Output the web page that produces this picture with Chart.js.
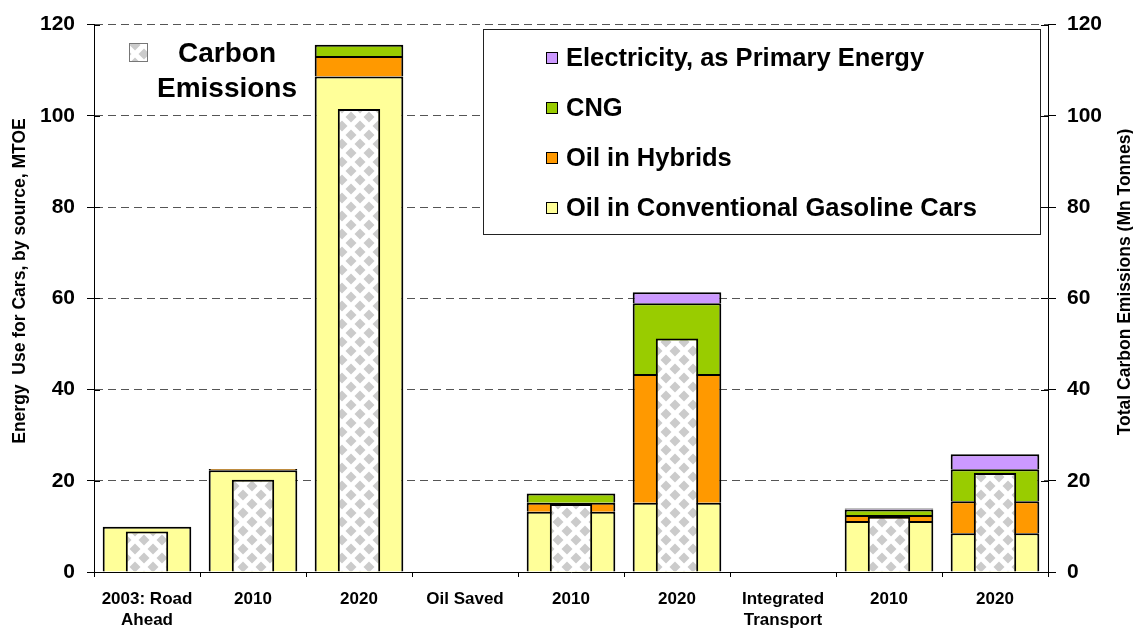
<!DOCTYPE html>
<html>
<head>
<meta charset="utf-8">
<script src="https://cdn.jsdelivr.net/npm/chart.js@4.4.1/dist/chart.umd.min.js"></script>
<style>
  html, body { margin: 0; padding: 0; background: #fff; }
  #c { display: block; }
</style>
</head>
<body>
<canvas id="c" width="1133" height="629"></canvas>
<script>
// Categories along the x axis (multi-line labels as arrays)
const categories = [['2003: Road', 'Ahead'], '2010', '2020', 'Oil Saved', '2010', '2020', ['Integrated', 'Transport'], '2010', '2020'];

// Energy use for cars by source, MTOE (stacked, left axis)
const oilConventional = [9.9, 22.3, 108.6, null, 13.2, 15.2, null, 11.2, 8.5];
const oilHybrids      = [0, 0.3, 4.5, null, 2.0, 28.2, null, 1.3, 7.0];
const cng             = [0, 0, 2.5, null, 2.0, 15.5, null, 1.2, 7.0];
const electricity     = [0, 0, 0, null, 0, 2.4, null, 0.2, 3.3];

// Total carbon emissions, Mn tonnes (right axis)
const carbonEmissions = [8.9, 20.2, 101.5, null, 14.9, 51.2, null, 12.1, 21.7];

// Axis ticks
const axisMin = 0, axisMax = 120, axisStep = 20;

const FONT = "'Liberation Sans', Arial, sans-serif";

// White background with grey diamond lattice for the emissions bars
function diamondPattern(ctx) {
  const T = 18;
  const tile = document.createElement('canvas');
  tile.width = T; tile.height = T;
  const g = tile.getContext('2d');
  g.fillStyle = '#ffffff';
  g.fillRect(0, 0, T, T);
  g.fillStyle = '#cbcbcb';
  const diamond = (cx, cy, r) => {
    g.beginPath();
    g.moveTo(cx, cy - r); g.lineTo(cx + r, cy); g.lineTo(cx, cy + r); g.lineTo(cx - r, cy);
    g.closePath(); g.fill();
  };
  [[0, 0], [T, 0], [0, T], [T, T], [T / 2, T / 2]].forEach(([x, y]) => diamond(x, y, 5.5));
  return ctx.createPattern(tile, 'repeat');
}

const canvas = document.getElementById('c');
const ctx0 = canvas.getContext('2d');
const checker = diamondPattern(ctx0);

// Inner tick marks, axis titles and the two legends
const overlay = {
  id: 'overlay',
  afterDraw(chart) {
    const ctx = chart.ctx;
    const { left, right } = chart.chartArea;
    const ys = chart.scales.y;
    ctx.save();
    ctx.strokeStyle = '#000';
    ctx.lineWidth = 1;
    ys.ticks.forEach(t => {
      const py = Math.round(ys.getPixelForValue(t.value)) + 0.5;
      ctx.beginPath();
      ctx.moveTo(left, py); ctx.lineTo(left + 6, py);
      ctx.moveTo(right - 7, py); ctx.lineTo(right, py);
      ctx.stroke();
    });

    // Axis titles
    ctx.fillStyle = '#000';
    ctx.font = 'bold 17.5px ' + FONT;
    ctx.textAlign = 'center';
    ctx.textBaseline = 'middle';
    ctx.save();
    ctx.translate(20, 281);
    ctx.rotate(-Math.PI / 2);
    ctx.fillText('Energy  Use for Cars, by source, MTOE', 0, 0);
    ctx.restore();
    ctx.save();
    ctx.translate(1125, 282);
    ctx.rotate(-Math.PI / 2);
    ctx.fillText('Total Carbon Emissions (Mn Tonnes)', 0, 0);
    ctx.restore();

    // Energy source legend
    const bx = 483.5, by = 29.5, bw = 557, bh = 205;
    ctx.fillStyle = '#fff';
    ctx.fillRect(bx, by, bw, bh);
    ctx.strokeStyle = '#222';
    ctx.lineWidth = 1;
    ctx.strokeRect(bx, by, bw, bh);
    const ds = chart.data.datasets.filter(d => d.stack === 'energy').slice().reverse();
    ctx.font = 'bold 25.5px ' + FONT;
    ctx.textAlign = 'left';
    ds.forEach((d, i) => {
      const cy = 58 + i * 50;
      ctx.fillStyle = d.backgroundColor;
      ctx.fillRect(546, cy - 6, 12, 12);
      ctx.strokeStyle = '#000';
      ctx.strokeRect(546.5, cy - 5.5, 11, 11);
      ctx.fillStyle = '#000';
      ctx.fillText(d.label, 566, cy + 1);
    });

    // Emissions legend
    ctx.fillStyle = checker;
    ctx.fillRect(129, 43, 19, 19);
    ctx.strokeStyle = '#777';
    ctx.strokeRect(129.5, 43.5, 18, 18);
    ctx.fillStyle = '#000';
    ctx.font = 'bold 28px ' + FONT;
    ctx.textAlign = 'center';
    ctx.fillText('Carbon', 227, 54);
    ctx.fillText('Emissions', 227, 89);
    ctx.restore();
  }
};

const energyBar = { stack: 'energy', yAxisID: 'y', order: 1,
  borderColor: '#000', borderWidth: 2, borderSkipped: 'start',
  barPercentage: 0.836, categoryPercentage: 1.0 };

new Chart(canvas, {
  type: 'bar',
  data: {
    labels: categories,
    datasets: [
      // Emissions bar sits centred over each stacked energy bar
      { label: 'Carbon Emissions', data: carbonEmissions, stack: 'carbon', yAxisID: 'y2', order: 0, grouped: false,
        backgroundColor: checker, borderColor: '#000', borderWidth: 2, borderSkipped: 'start',
        barPercentage: 0.40, categoryPercentage: 1.0 },
      Object.assign({ label: 'Oil in Conventional Gasoline Cars', data: oilConventional, backgroundColor: '#FFFF99' }, energyBar),
      Object.assign({ label: 'Oil in Hybrids', data: oilHybrids, backgroundColor: '#FF9900' }, energyBar),
      Object.assign({ label: 'CNG', data: cng, backgroundColor: '#99CC00' }, energyBar),
      Object.assign({ label: 'Electricity, as Primary Energy', data: electricity, backgroundColor: '#CC99FF' }, energyBar)
    ]
  },
  options: {
    responsive: false,
    animation: false,
    devicePixelRatio: 1,
    layout: { padding: { top: 19, left: 0, right: 0, bottom: 0 } },
    plugins: { legend: { display: false }, tooltip: { enabled: false } },
    scales: {
      x: {
        type: 'category', stacked: true, offset: true,
        grid: { display: true, offset: true, drawOnChartArea: false, drawTicks: true, tickLength: 5, color: '#000' },
        border: { display: true, color: '#000', width: 1 },
        ticks: { autoSkip: false, maxRotation: 0, minRotation: 0, padding: 11, color: '#000',
                 font: { family: FONT, size: 17, weight: 'bold', lineHeight: 1.28 } },
        afterFit(s) { s.height = 57; }
      },
      y: {
        position: 'left', stacked: true, min: axisMin, max: axisMax,
        ticks: { stepSize: axisStep, padding: 12, color: '#000', font: { family: FONT, size: 21, weight: 'bold' } },
        grid: { color: '#555', lineWidth: 1, tickLength: 7, tickColor: '#000', tickBorderDash: [] },
        border: { display: true, color: '#000', width: 1, dash: [8, 5] },
        afterFit(s) { s.width = 94; }
      },
      y2: {
        position: 'right', stacked: false, min: axisMin, max: axisMax,
        ticks: { stepSize: axisStep, padding: 11, color: '#000', font: { family: FONT, size: 21, weight: 'bold' } },
        grid: { drawOnChartArea: false, tickLength: 8, tickColor: '#000', color: '#000' },
        border: { display: true, color: '#000', width: 1 },
        afterFit(s) { s.width = 85; }
      }
    }
  },
  plugins: [overlay]
});
</script>
</body>
</html>
